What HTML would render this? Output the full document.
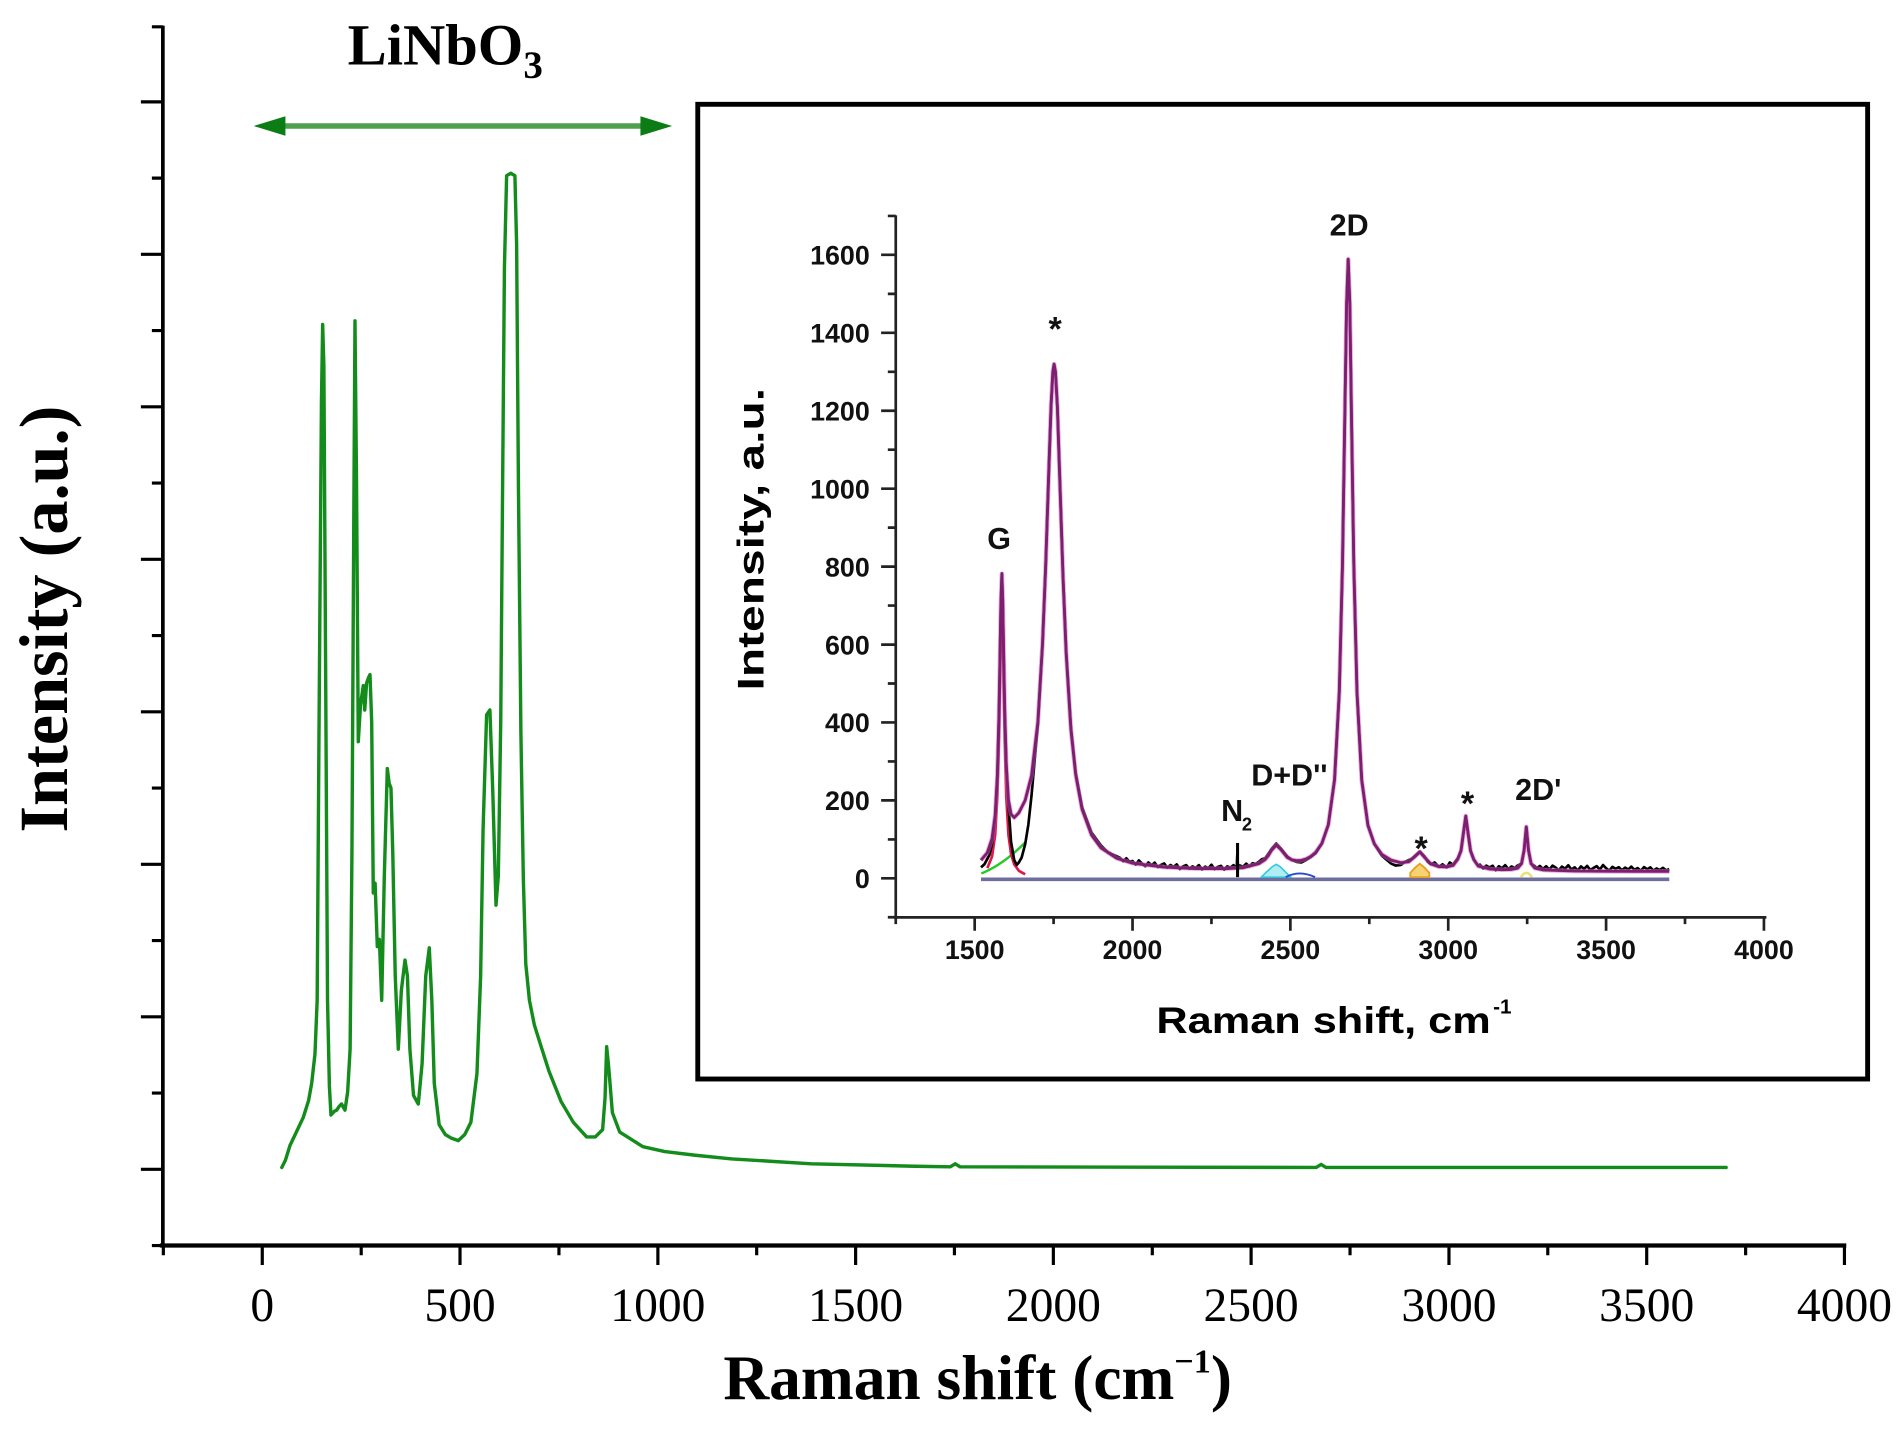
<!DOCTYPE html>
<html><head><meta charset="utf-8">
<style>
html,body{margin:0;padding:0;background:#fff;width:1903px;height:1429px;overflow:hidden}
svg{display:block}
.serif{font-family:"Liberation Serif","Times New Roman",serif}
.sans{font-family:"Liberation Sans",Arial,sans-serif;font-weight:bold}
</style></head>
<body>
<svg xmlns="http://www.w3.org/2000/svg" width="1903" height="1429" viewBox="0 0 1560 1171.4" preserveAspectRatio="none">
<rect x="0" y="0" width="1560" height="1171.4" fill="#fff"/>

<!-- main axes -->
<g stroke="#000" fill="none" stroke-linecap="butt">
  <line x1="133.5" y1="21" x2="133.5" y2="1022.5" stroke-width="3"/>
  <line x1="131" y1="1021" x2="1513.5" y2="1021" stroke-width="3.5"/>
  <path stroke-width="2.6" d="M115.5 83.5H133.5M115.5 208.5H133.5M115.5 333.5H133.5M115.5 458.5H133.5M115.5 583.5H133.5M115.5 708.5H133.5M115.5 833.5H133.5M115.5 958.5H133.5"/>
  <path stroke-width="2.6" d="M124.5 22H133.5M124.5 146H133.5M124.5 271H133.5M124.5 396H133.5M124.5 521H133.5M124.5 646H133.5M124.5 771H133.5M124.5 896H133.5M124.5 1021H133.5"/>
  <path stroke-width="2.6" d="M215 1021V1037M377.1 1021V1037M539.3 1021V1037M701.4 1021V1037M863.5 1021V1037M1025.6 1021V1037M1187.8 1021V1037M1349.9 1021V1037M1512 1021V1037"/>
  <path stroke-width="2.6" d="M133.9 1021V1029M296.1 1021V1029M458.2 1021V1029M620.3 1021V1029M782.4 1021V1029M944.6 1021V1029M1106.7 1021V1029M1268.8 1021V1029M1431 1021V1029"/>
</g>

<!-- main tick labels -->
<g class="serif" font-size="39" text-anchor="middle" fill="#000">
  <text x="215" y="1083">0</text>
  <text x="377.1" y="1083">500</text>
  <text x="539.3" y="1083">1000</text>
  <text x="701.4" y="1083">1500</text>
  <text x="863.5" y="1083">2000</text>
  <text x="1025.6" y="1083">2500</text>
  <text x="1187.8" y="1083">3000</text>
  <text x="1349.9" y="1083">3500</text>
  <text x="1512" y="1083">4000</text>
</g>

<!-- main titles -->
<text class="serif" x="593" y="1147" font-size="52" font-weight="bold" fill="#000">Raman shift (cm<tspan font-size="28" dy="-22">−1</tspan><tspan dy="22">)</tspan></text>
<text class="serif" transform="translate(55,507.5) rotate(-90)" x="0" y="0" font-size="56" font-weight="bold" text-anchor="middle" fill="#000">Intensity (a.u.)</text>
<text class="serif" x="285" y="53" font-size="48" font-weight="bold" fill="#000">LiNbO<tspan font-size="32" dy="11">3</tspan></text>

<!-- arrow -->
<line x1="228" y1="103.3" x2="530" y2="103.3" stroke="#4f9f4f" stroke-width="4.5"/>
<polygon points="208,103.3 234,95.3 234,111.3" fill="#0b7d14"/>
<polygon points="551,103.3 525,95.3 525,111.3" fill="#0b7d14"/>

<!-- main green spectrum -->
<path fill="none" stroke="#138c1c" stroke-width="2.8" stroke-linejoin="round" stroke-linecap="round" d="M231,957 L234,951 237.7,939 242,930 248.6,916 253,902 255.5,888 258.2,864 260,820 261.5,600 263.5,330 264.5,266 265.5,300 267,560 268.5,820 270,890 271.3,914 274,911 276,910 278,907 280,905 282.8,910 285,895 287,860 288.5,700 290,430 291,263 292.3,400 293.7,608 295.5,578 297.8,562 299,582 300.5,560 301.9,556 303.3,553 304.7,592 306,732 307.5,724 309.3,776 311,770 312.9,820 315,720 317.5,630 319,642 320.5,646 322,700 324,800 326.5,860 329,812 332,787 334,800 336,860 339,898 342.9,905 346,872 349,800 351.9,777 354,820 356,888 360,922 365,930 370,933 375.7,935 381,930 386,920 391,880 394,800 396,680 398.9,586 401.6,582 404,650 406.6,742 408.5,718 410.5,590 412,400 413.5,220 415.3,144 418.7,142 422.1,144 423.5,200 425,400 427,600 429,720 431,790 434,820 438,840 443,856 450,878 460,903 470,920 480.9,932 488,932 494,926 496,900 497.3,858 499,875 502,912 508,928 516,933 527,940 545,944 570,947 600,950 665,954 750,956 779,956.5 783,954 787,956.5 1079,957 1083,954.5 1087,957 1415,957"/>

<!-- inset box -->
<rect x="572" y="85.5" width="959" height="799" fill="#fff" stroke="#000" stroke-width="4"/>

<!-- inset axes -->
<g stroke="#222" fill="none" stroke-width="2.2">
  <line x1="734.3" y1="176.5" x2="734.3" y2="753"/>
  <line x1="733" y1="752" x2="1448" y2="752"/>
  <path d="M722.3 720H734.3M722.3 656.1H734.3M722.3 592.2H734.3M722.3 528.4H734.3M722.3 464.5H734.3M722.3 400.6H734.3M722.3 336.7H734.3M722.3 272.8H734.3M722.3 208.9H734.3"/>
  <path d="M727.8 751.9H734.3M727.8 688.1H734.3M727.8 624.2H734.3M727.8 560.3H734.3M727.8 496.4H734.3M727.8 432.5H734.3M727.8 368.6H734.3M727.8 304.8H734.3M727.8 240.9H734.3M727.8 177H734.3"/>
  <path d="M799 752V763M928.4 752V763M1057.8 752V763M1187.2 752V763M1316.6 752V763M1446 752V763"/>
  <path d="M734.3 752V757.5M863.7 752V757.5M993.1 752V757.5M1122.5 752V757.5M1251.9 752V757.5M1381.3 752V757.5"/>
</g>

<!-- inset tick labels -->
<g class="sans" font-size="22" fill="#111" text-anchor="end">
  <text x="713" y="728">0</text>
  <text x="713" y="664.1">200</text>
  <text x="713" y="600.2">400</text>
  <text x="713" y="536.4">600</text>
  <text x="713" y="472.5">800</text>
  <text x="713" y="408.6">1000</text>
  <text x="713" y="344.7">1200</text>
  <text x="713" y="280.8">1400</text>
  <text x="713" y="216.9">1600</text>
</g>
<g class="sans" font-size="22" fill="#111" text-anchor="middle">
  <text x="799" y="786">1500</text>
  <text x="928.4" y="786">2000</text>
  <text x="1057.8" y="786">2500</text>
  <text x="1187.2" y="786">3000</text>
  <text x="1316.6" y="786">3500</text>
  <text x="1446" y="786">4000</text>
</g>

<!-- inset titles -->
<text class="sans" x="948" y="847" font-size="30" fill="#000" textLength="274" lengthAdjust="spacingAndGlyphs">Raman shift, cm</text>
<text class="sans" x="1224" y="831" font-size="17" fill="#000">-1</text>
<text class="sans" transform="translate(626,442) rotate(-90)" x="0" y="0" font-size="30" fill="#000" text-anchor="middle" textLength="248" lengthAdjust="spacingAndGlyphs">Intensity, a.u.</text>

<!-- inset spectrum -->
<line x1="804.2" y1="720.8" x2="1368.4" y2="720.8" stroke="#6e6e9e" stroke-width="3"/>

<!-- components -->
<path fill="#f3c445" fill-opacity="0.75" stroke="#e8a020" stroke-width="1.5" d="M1156.1,719 L1156.1,715.5 1160,711.3 1163.9,708 1167.8,711.3 1171.7,715.5 1171.7,719 Z"/>
<path fill="#8fe6ee" fill-opacity="0.7" stroke="#30c8dc" stroke-width="1.3" d="M1034,719 L1038,715 1043,710.5 1046.2,708.5 1049.5,710.5 1054,715 1058,719 Z"/>
<path fill="none" stroke="#2a48c8" stroke-width="1.6" d="M1054,719 Q1065,713 1078,719"/>
<path fill="none" stroke="#e8e070" stroke-width="2" d="M1246.8,719 Q1251.2,712 1255.9,719"/>
<path fill="none" stroke="#28c828" stroke-width="2" d="M804.5,716 Q822,709 840,691"/>
<path fill="none" stroke="#e0184a" stroke-width="2.2" stroke-linejoin="round" d="M809.4,711.6 L813.2,702.2 815.8,684.5 817.6,653.2 818.9,605.8 819.7,561.9 820.5,514.5 821.3,491.6 822.0,514.5 822.8,561.9 823.6,605.8 824.9,653.2 826.7,684.5 828.8,699.9 831.4,708.5 835.2,713.8 840.4,716.7"/>

<!-- black data -->
<path fill="none" stroke="#000" stroke-width="2.2" stroke-linejoin="round" d="M804.2,711 L807,708.5 809.4,704 811,701 813.2,692 815.8,670 817.6,636 818.9,587 819.7,542 820.5,494 821.3,470 822.0,492 822.8,539 823.6,582 824.9,627 826.7,660 828.8,690 831.4,705 833.5,709 835.2,707 837.5,703 840.4,692 843,676 845.6,652 848,625 850.8,594 854.6,528 857.2,464 859.8,385 861.6,333 863.1,304.5 864.1,298.5 865.2,304.6 866.8,333.5 868.8,393.5 871.4,471.5 874.0,534 877.9,596.5 881.8,633.5 887.0,661.5 894.8,682.5 902.5,693 908,698.5 915.5,702 918.1,703.2 920.7,706.0 923.3,703.6 925.8,706.3 928.4,705.8 931.0,708.8 933.6,705.3 936.2,707.9 938.8,710.1 941.4,707.0 944.0,709.2 946.6,707.2 949.1,710.8 951.7,709.0 954.3,707.8 956.9,711.3 959.5,709.1 962.1,710.6 964.6,708.6 967.2,712.4 969.8,710.2 972.4,709.2 975.0,712.1 977.6,710.2 980.2,711.6 982.8,709.2 985.4,712.7 988.0,710.4 990.5,711.8 993.1,708.9 995.7,712.5 998.3,710.6 1000.9,709.8 1003.5,712.9 1006.0,710.2 1008.6,711.3 1011.2,709.2 1013.8,712.0 1014.3,700 1014.8,711 1016.4,709.5 1019.0,710.5 1021.6,708.0 1024.2,710.2 1026.8,707.6 1029.3,708.2 1031.9,706.5 1034.5,704.3 1037.1,703.6 1039.7,699.9 1042.3,696 1046.2,691.5 1050.0,695.5 1055.2,702 1059.1,705 1062.9,706.5 1066.8,707 1070.7,705 1074.6,702.5 1078.5,699.5 1083.6,691.4 1088.9,676.1 1094.0,639.2 1097.9,567.3 1100.5,463.2 1102.3,348.9 1103.9,248.6 1105.2,212.5 1106.5,248.6 1108.0,348.9 1109.8,463.2 1112.4,567.3 1116.3,639.5 1121.4,676.6 1126.6,691.7 1132.8,701.5 1137,705 1140.6,708 1144,709.5 1148.4,709 1151,707 1154.8,705 1157.4,704 1160.0,701.5 1163.9,698 1167.8,702 1170.4,706.5 1173.0,708.5 1176,707 1179.5,710.5 1182.5,708.5 1186.0,711 1188.5,707 1191.2,709 1193.6,705.5 1195.1,703.5 1197.7,697 1199.5,684 1201.6,669 1203.6,684 1205.5,697.5 1208.1,704.5 1210,707.5 1211.9,710 1213.2,708.8 1215.8,711.9 1218.4,709.6 1221.0,711.1 1223.6,709.7 1226.1,713.4 1228.7,710.1 1231.3,711.8 1233.9,709.2 1236.5,712.5 1239.1,710.3 1241.7,711.6 1244.2,709.4 1247.3,707.9 1249.4,697 1251.2,677.8 1253.0,697 1255.1,707.9 1258.2,710 1259.7,711.8 1262.3,709.9 1264.9,712.4 1267.5,710.1 1270.1,712.9 1272.7,709.6 1275.3,711.2 1277.8,713.5 1280.4,710.4 1283.0,712.1 1285.6,709.3 1288.2,712.8 1290.8,711.0 1293.4,713.6 1296.0,710.2 1298.5,712.3 1301.1,709.8 1303.7,713.2 1306.3,711.5 1308.9,710.0 1311.5,712.9 1314.1,709.1 1316.6,711.7 1319.2,713.8 1321.8,710.6 1324.4,712.2 1327.0,710.9 1329.6,713.4 1332.2,711.2 1334.7,712.8 1337.3,710.4 1339.9,713.1 1342.5,711.6 1345.1,713.9 1347.7,710.8 1350.3,712.6 1352.9,711.0 1355.4,713.7 1358.0,711.9 1360.6,713.2 1363.2,711.4 1365.8,713.5 1368.4,712.5"/>

<!-- fit envelope -->
<path fill="none" stroke="#d070c0" stroke-width="3.8" stroke-opacity="0.55" stroke-linejoin="round" d="M804.2,705.2 L809.4,698.9 813.2,687.6 815.8,668.2 817.6,635.5 818.9,586.9 819.7,542.3 820.5,494.0 821.3,470.4 822.0,492.3 822.8,538.8 823.6,581.6 824.9,627.3 826.7,655.8 828.8,667.3 831.4,670.2 835.2,666.3 840.4,656.0 845.6,635.9 850.8,591.9 854.6,528.2 857.2,463.9 859.8,384.9 861.6,333.0 863.1,304.5 864.1,298.5 865.2,304.6 866.8,333.5 868.8,393.9 871.4,472.6 874.0,535.5 877.9,598.1 881.8,635.0 887.0,663.3 894.8,684.5 902.5,695.0 915.5,703.6 928.4,707.6 954.3,710.8 980.2,712.0 1006.0,712.0 1019.0,711.3 1031.9,708.0 1037.1,704.6 1039.7,701.4 1042.3,697.1 1046.2,692.7 1050.0,696.4 1055.2,702.8 1059.1,704.9 1062.9,705.5 1066.8,705.3 1070.7,704.1 1074.6,702 1078.5,698.8 1083.6,691.4 1088.9,676.1 1094.0,639.2 1097.9,567.3 1100.5,463.2 1102.3,348.9 1103.9,248.6 1105.2,212.5 1106.5,248.6 1108.0,348.9 1109.8,463.2 1112.4,567.3 1116.3,639.5 1121.4,676.6 1126.6,691.7 1132.8,700.4 1140.6,705.2 1148.4,707.2 1154.8,706.4 1160.0,702.1 1163.9,698.4 1167.8,702.8 1173.0,708.2 1179.5,710.4 1186.0,710.6 1191.2,709.4 1195.1,704.2 1197.7,697.4 1199.5,684.1 1201.6,668.9 1203.6,684.1 1205.5,697.5 1208.1,704.5 1211.9,710.0 1221.0,712.3 1231.3,712.9 1239.1,712.7 1244.2,711.6 1247.3,707.9 1249.4,697.0 1251.2,677.8 1253.0,697.0 1255.1,707.9 1258.2,711.6 1264.9,713.1 1290.8,714.0 1316.6,714.2 1342.5,714.3 1368.4,714.3"/>
<path fill="none" stroke="#7e1e70" stroke-width="2.3" stroke-linejoin="round" d="M804.2,705.2 L809.4,698.9 813.2,687.6 815.8,668.2 817.6,635.5 818.9,586.9 819.7,542.3 820.5,494.0 821.3,470.4 822.0,492.3 822.8,538.8 823.6,581.6 824.9,627.3 826.7,655.8 828.8,667.3 831.4,670.2 835.2,666.3 840.4,656.0 845.6,635.9 850.8,591.9 854.6,528.2 857.2,463.9 859.8,384.9 861.6,333.0 863.1,304.5 864.1,298.5 865.2,304.6 866.8,333.5 868.8,393.9 871.4,472.6 874.0,535.5 877.9,598.1 881.8,635.0 887.0,663.3 894.8,684.5 902.5,695.0 915.5,703.6 928.4,707.6 954.3,710.8 980.2,712.0 1006.0,712.0 1019.0,711.3 1031.9,708.0 1037.1,704.6 1039.7,701.4 1042.3,697.1 1046.2,692.7 1050.0,696.4 1055.2,702.8 1059.1,704.9 1062.9,705.5 1066.8,705.3 1070.7,704.1 1074.6,702 1078.5,698.8 1083.6,691.4 1088.9,676.1 1094.0,639.2 1097.9,567.3 1100.5,463.2 1102.3,348.9 1103.9,248.6 1105.2,212.5 1106.5,248.6 1108.0,348.9 1109.8,463.2 1112.4,567.3 1116.3,639.5 1121.4,676.6 1126.6,691.7 1132.8,700.4 1140.6,705.2 1148.4,707.2 1154.8,706.4 1160.0,702.1 1163.9,698.4 1167.8,702.8 1173.0,708.2 1179.5,710.4 1186.0,710.6 1191.2,709.4 1195.1,704.2 1197.7,697.4 1199.5,684.1 1201.6,668.9 1203.6,684.1 1205.5,697.5 1208.1,704.5 1211.9,710.0 1221.0,712.3 1231.3,712.9 1239.1,712.7 1244.2,711.6 1247.3,707.9 1249.4,697.0 1251.2,677.8 1253.0,697.0 1255.1,707.9 1258.2,711.6 1264.9,713.1 1290.8,714.0 1316.6,714.2 1342.5,714.3 1368.4,714.3"/>

<!-- N2 marker -->
<line x1="1014.5" y1="691" x2="1014.5" y2="719" stroke="#000" stroke-width="2.5"/>

<!-- annotations -->
<g class="sans" fill="#111">
  <text x="1106" y="193" font-size="25" text-anchor="middle">2D</text>
  <text x="819" y="450" font-size="25" text-anchor="middle">G</text>
  <text x="1057" y="644" font-size="25" text-anchor="middle">D+D''</text>
  <text x="1001" y="673" font-size="25">N</text>
  <text x="1018" y="681" font-size="15">2</text>
  <text x="1261" y="656" font-size="25" text-anchor="middle">2D'</text>
  <text x="865" y="279" font-size="28" text-anchor="middle">*</text>
  <text x="1165" y="705" font-size="28" text-anchor="middle">*</text>
  <text x="1203" y="668" font-size="28" text-anchor="middle">*</text>
</g>
</svg>
</body></html>
